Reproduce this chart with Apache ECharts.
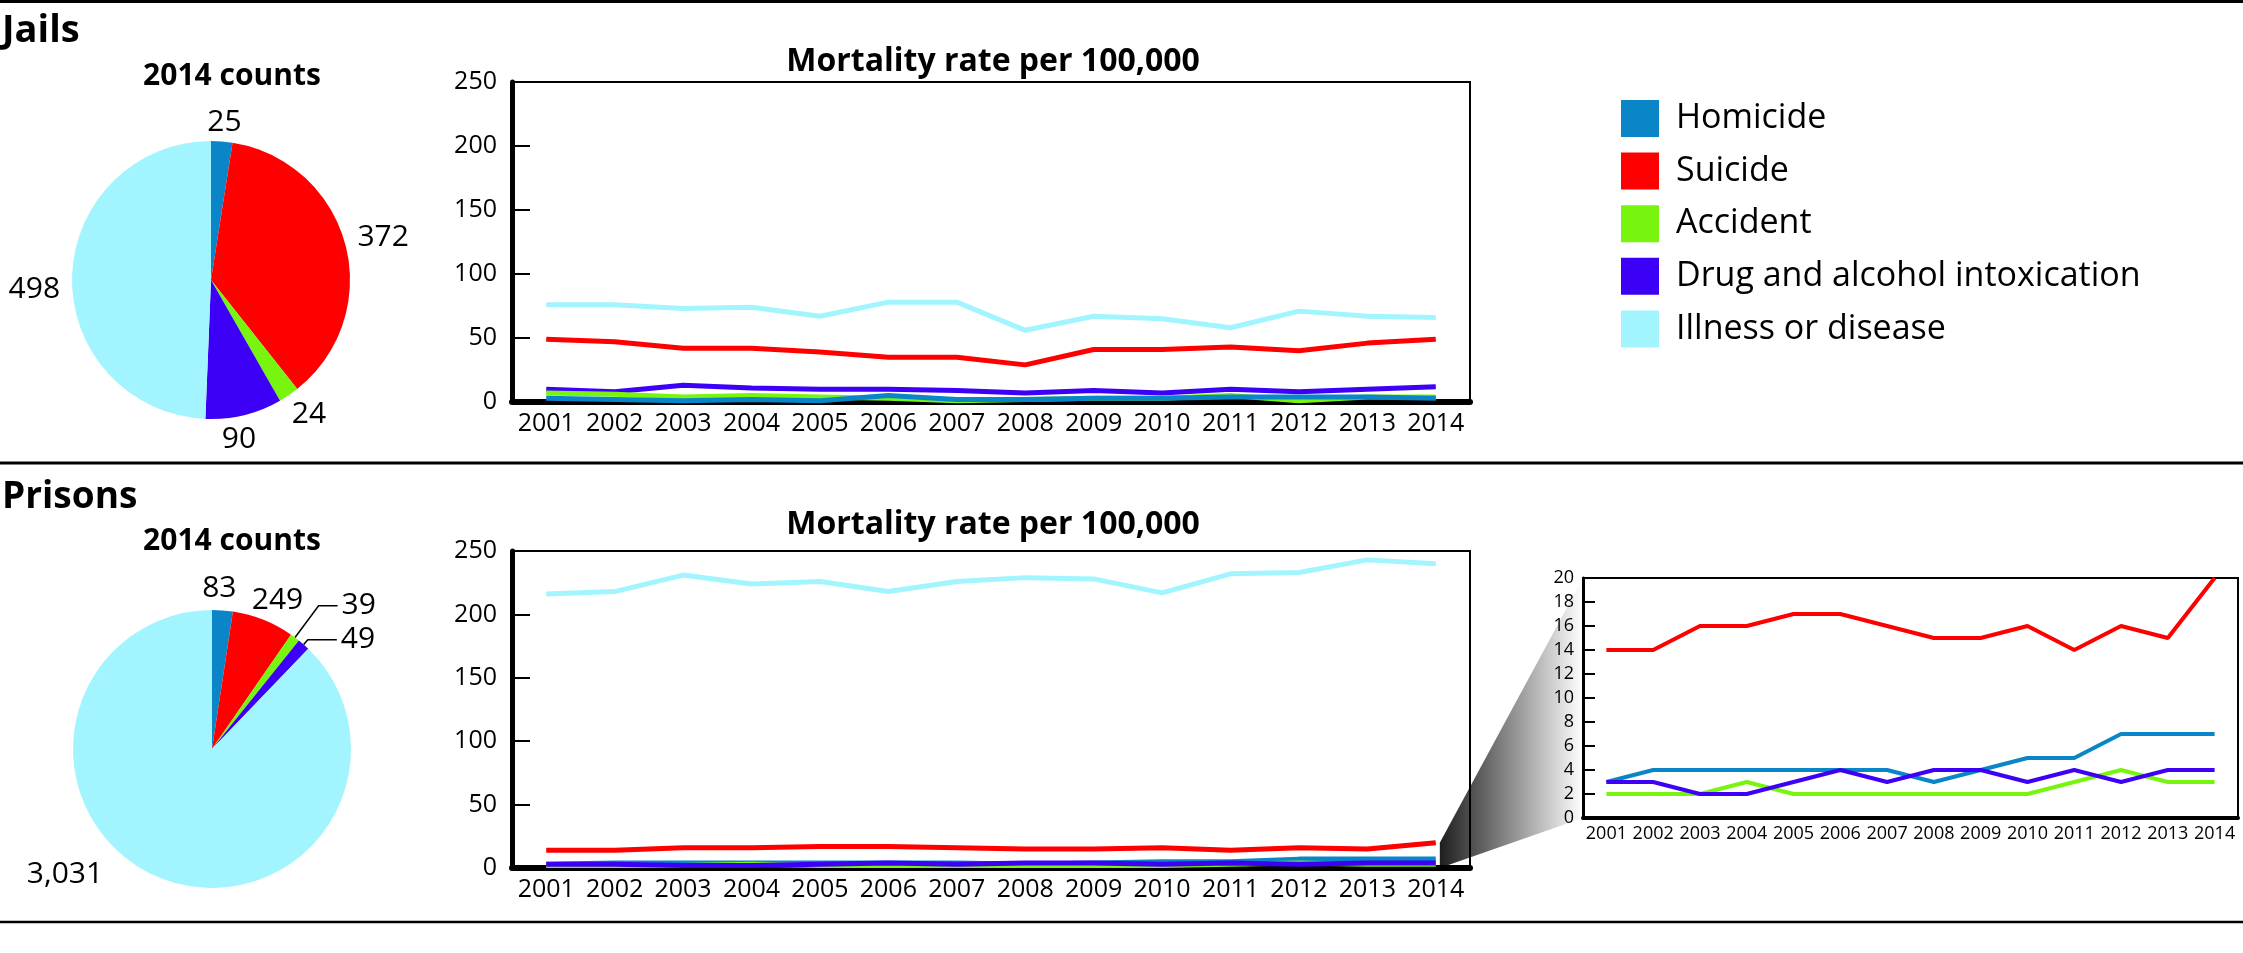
<!DOCTYPE html>
<html>
<head>
<meta charset="utf-8">
<title>Deaths in jails and prisons</title>
<script src="https://cdn.jsdelivr.net/npm/echarts@6/dist/echarts.min.js"></script>
<style>
  html, body { margin: 0; padding: 0; background: #fff; }
  #chart { width: 2243px; height: 953px; }
</style>
</head>
<body>
<div id="chart"></div>
<script>
// ---- data ----
var years = ['2001', '2002', '2003', '2004', '2005', '2006', '2007',
             '2008', '2009', '2010', '2011', '2012', '2013', '2014'];
var causes = ['Homicide', 'Suicide', 'Accident',
              'Drug and alcohol intoxication', 'Illness or disease'];

var jailCounts2014 = [25, 372, 24, 90, 498];
var prisonCounts2014 = [83, 249, 39, 49, 3031];

// jails, mortality rate per 100,000
var jailHomicide = [3, 2, 1, 2, 1, 5, 2, 2, 3, 3, 4, 4, 4, 3];
var jailSuicide = [49, 47, 42, 42, 39, 35, 35, 29, 41, 41, 43, 40, 46, 49];
var jailAccident = [7, 6, 4, 5, 4, 3, 1, 2, 3, 3, 5, 1, 4, 4];
var jailDrug = [10, 8, 13, 11, 10, 10, 9, 7, 9, 7, 10, 8, 10, 12];
var jailIllness = [76, 76, 73, 74, 67, 78, 78, 56, 67, 65, 58, 71, 67, 66];

// prisons, mortality rate per 100,000
var prisonHomicide = [3, 4, 4, 4, 4, 4, 4, 3, 4, 5, 5, 7, 7, 7];
var prisonSuicide = [14, 14, 16, 16, 17, 17, 16, 15, 15, 16, 14, 16, 15, 20];
var prisonAccident = [2, 2, 2, 3, 2, 2, 2, 2, 2, 2, 3, 4, 3, 3];
var prisonDrug = [3, 3, 2, 2, 3, 4, 3, 4, 4, 3, 4, 3, 4, 4];
var prisonIllness = [216, 218, 231, 224, 226, 218, 226, 229, 228, 217, 232, 233, 243, 240];

// tick labels
var rateTicks = [0, 50, 100, 150, 200, 250];
var zoomTicks = [0, 2, 4, 6, 8, 10, 12, 14, 16, 18, 20];

// ---- styling ----
var causeColors = ['#0a86c8', '#ff0000', '#78f50e', '#3d00f6', '#a2f5fe'];
var FONT = '"Open Sans", "Noto Sans", sans-serif';

// label placement of the pie numbers (line length, gap, vertical nudge)
var jailLabelPos = [
  { len: 19.5, len2: 0, d: -16 },
  { len: 30, len2: 0, d: -17 },
  { len: 23, len2: 0, d: -10 },
  { len: 24.7, len2: 0, d: -28 },
  { len: 8, len2: 0, d: 4, dy: 6 }
];
var prisonLabelPos = [
  { len: 22.5, len2: 0, d: -22 },
  { len: 20.3, len2: 0, d: -19 },
  { len: 39.5, len2: 19, d: 4, line: true },
  { len: 6.3, len2: 29, d: 4, line: true },
  { len: 0, len2: 0, d: 57, dy: -2 }
];

function pieData(counts, pos) {
  return counts.map(function (v, i) {
    var p = pos[i];
    return {
      name: causes[i],
      value: v,
      itemStyle: { color: causeColors[i] },
      label: { distanceToLabelLine: p.d },
      labelLine: { show: !!p.line, length: p.len, length2: p.len2 }
    };
  });
}

function pieSeries(counts, pos, center) {
  return {
    type: 'pie',
    radius: 139,
    center: center,
    startAngle: 90,
    clockwise: true,
    avoidLabelOverlap: false,
    silent: true,
    labelLayout: function (p) {
      var dy = pos[p.dataIndex].dy;
      return dy ? { dy: dy, hideOverlap: false } : { hideOverlap: false };
    },
    label: {
      show: true,
      position: 'outside',
      color: '#000',
      fontSize: 30,
      lineHeight: 30,
      fontFamily: FONT,
      formatter: function (p) { return p.value.toLocaleString('en-US'); }
    },
    labelLine: { lineStyle: { color: '#000', width: 1.5 } },
    data: pieData(counts, pos)
  };
}

function lineSeries(idx, values, axis, width) {
  return {
    type: 'line',
    name: causes[idx],
    xAxisIndex: axis,
    yAxisIndex: axis,
    data: values,
    symbol: 'none',
    silent: true,
    itemStyle: { color: causeColors[idx] },
    lineStyle: { color: causeColors[idx], width: width }
  };
}

function xAxis(grid, lineW, tickLen, fontSize, margin) {
  return {
    type: 'category',
    gridIndex: grid,
    data: years,
    boundaryGap: true,
    axisLine: { lineStyle: { color: '#000', width: lineW } },
    axisTick: { inside: true, length: tickLen, lineStyle: { color: '#000', width: 2 } },
    axisLabel: { interval: 0, color: '#000', fontSize: fontSize, fontFamily: FONT, margin: margin },
    splitLine: { show: false }
  };
}

function yAxis(grid, ticks, lineW, tickLen, fontSize, margin) {
  return {
    type: 'value',
    gridIndex: grid,
    min: ticks[0],
    max: ticks[ticks.length - 1],
    interval: ticks[1] - ticks[0],
    axisLine: { show: true, lineStyle: { color: '#000', width: lineW } },
    axisTick: { show: true, inside: true, length: tickLen, lineStyle: { color: '#000', width: 2 } },
    axisLabel: { color: '#000', fontSize: fontSize, fontFamily: FONT, margin: margin },
    splitLine: { show: false }
  };
}

function text(str, x, y, size, bold, align) {
  return {
    type: 'text', x: x, y: y, silent: true,
    style: {
      text: str, fill: '#000', fontSize: size, fontFamily: FONT,
      fontWeight: bold ? 'bold' : 'normal',
      align: align || 'left', verticalAlign: 'middle'
    }
  };
}

function rule(y, w) {
  return {
    type: 'line', silent: true,
    shape: { x1: 0, y1: y, x2: 2243, y2: y },
    style: { stroke: '#000', lineWidth: w }
  };
}

var chart = echarts.init(document.getElementById('chart'));

var option = {
  animation: false,
  backgroundColor: '#fff',
  textStyle: { fontFamily: FONT },
  legend: {
    orient: 'vertical',
    left: 1621,
    top: 100,
    padding: 0,
    icon: 'rect',
    itemWidth: 38,
    itemHeight: 37,
    itemGap: 15.6,
    selectedMode: false,
    textStyle: { color: '#000', fontSize: 34, lineHeight: 37, fontFamily: FONT, padding: [0, 0, 0, 12] },
    data: causes
  },
  grid: [
    { left: 512, top: 82, width: 958, height: 320, outerBoundsMode: 'none',
      show: true, borderColor: '#000', borderWidth: 2 },
    { left: 512, top: 551, width: 958, height: 317, outerBoundsMode: 'none',
      show: true, borderColor: '#000', borderWidth: 2 },
    { left: 1583, top: 578, width: 655, height: 240, outerBoundsMode: 'none',
      show: true, borderColor: '#000', borderWidth: 2, backgroundColor: '#fff' }
  ],
  xAxis: [
    xAxis(0, 6, 14, 25, 9),
    xAxis(1, 6, 14, 25, 9),
    xAxis(2, 4, 10, 18, 7)
  ],
  yAxis: [
    yAxis(0, rateTicks, 5, 18, 25, 15),
    yAxis(1, rateTicks, 5, 18, 25, 15),
    yAxis(2, zoomTicks, 3, 12, 18, 9)
  ],
  graphic: [
    rule(1.5, 3),
    rule(463, 3),
    rule(922, 2.5),
    text('Jails', 2, 31, 38, true),
    text('Prisons', 2, 497, 37, true),
    text('2014 counts', 232, 76, 30, true, 'center'),
    text('2014 counts', 232, 541, 30, true, 'center'),
    text('Mortality rate per 100,000', 993, 62, 32, true, 'center'),
    text('Mortality rate per 100,000', 993, 525, 32, true, 'center')
  ],
  series: [
    lineSeries(4, jailIllness, 0, 5),
    lineSeries(1, jailSuicide, 0, 5),
    lineSeries(3, jailDrug, 0, 5),
    lineSeries(2, jailAccident, 0, 5),
    lineSeries(0, jailHomicide, 0, 5),

    lineSeries(4, prisonIllness, 1, 5),
    lineSeries(1, prisonSuicide, 1, 5),
    lineSeries(0, prisonHomicide, 1, 5),
    lineSeries(2, prisonAccident, 1, 5),
    lineSeries(3, prisonDrug, 1, 5),

    lineSeries(1, prisonSuicide, 2, 4),
    lineSeries(0, prisonHomicide, 2, 4),
    lineSeries(2, prisonAccident, 2, 4),
    lineSeries(3, prisonDrug, 2, 4),

    pieSeries(jailCounts2014, jailLabelPos, [211, 280]),
    pieSeries(prisonCounts2014, prisonLabelPos, [212, 749])
  ]
};

chart.setOption(option);

// grey wedge joining the bottom of the prisons chart to the zoomed panel
var last = years[years.length - 1];
var zTop = zoomTicks[zoomTicks.length - 1];
var a = chart.convertToPixel({ xAxisIndex: 1, yAxisIndex: 1 }, [last, zTop]);
var b = chart.convertToPixel({ xAxisIndex: 1, yAxisIndex: 1 }, [last, 0]);
var c0 = chart.convertToPixel({ xAxisIndex: 2, yAxisIndex: 2 }, [years[0], zTop]);
var c1 = chart.convertToPixel({ xAxisIndex: 2, yAxisIndex: 2 }, [years[1], 0]);
var band = c1[0] - c0[0];
var insetLeft = c0[0] - band / 2;
var d = chart.convertToPixel({ xAxisIndex: 2, yAxisIndex: 2 }, [years[0], 0]);

option.graphic.push({
  type: 'polygon', z: -1, silent: true,
  shape: { points: [[a[0] + 4, a[1]], [insetLeft, c0[1]], [insetLeft, d[1]], [b[0] + 4, b[1]]] },
  style: {
    fill: new echarts.graphic.LinearGradient(0, 0, 1, 0, [
      { offset: 0, color: '#1e1e1e' },
      { offset: 1, color: '#ffffff' }
    ])
  }
});
chart.setOption(option, true);
</script>
</body>
</html>
